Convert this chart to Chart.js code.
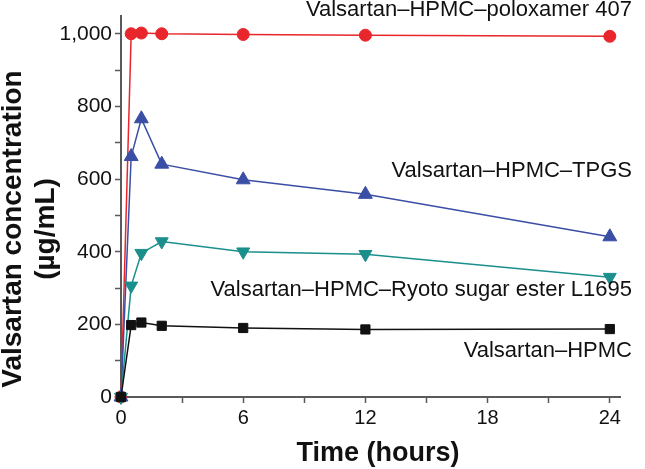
<!DOCTYPE html>
<html>
<head>
<meta charset="utf-8">
<script src="https://cdn.jsdelivr.net/npm/chart.js@4"></script>
<style>
    html, body { margin: 0; padding: 0; background: #fff; }
    #wrap { width: 645px; height: 469px; }
</style>
</head>
<body>
<div id="wrap"><canvas id="pkChart" width="645" height="469"></canvas></div>
<script>
// Sampling times (hours)
const hours = [0, 0.5, 1, 2, 6, 12, 24];

// Valsartan concentration (ug/mL) per formulation
const poloxamer = [0, 1000, 1002, 1000, 998, 996, 993];
const tpgs = [0, 662, 766, 641, 598, 558, 441];
const ryoto = [0, 306, 396, 428, 400, 393, 330];
const hpmc = [0, 198, 205, 196, 190, 186, 187];

const seriesNames = [
    'Valsartan\u2013HPMC\u2013poloxamer 407',
    'Valsartan\u2013HPMC\u2013TPGS',
    'Valsartan\u2013HPMC\u2013Ryoto sugar ester L1695',
    'Valsartan\u2013HPMC'
];

const xTicks = [0, 6, 12, 18, 24];
const yTicks = [0, 200, 400, 600, 800, 1000];

const FONT = '"Liberation Sans", Arial, sans-serif';
const AXIS = '#5a5a5a';

function toPoints(values) {
    return hours.map((h, i) => ({ x: h, y: values[i] }));
}

// Series labels, axis titles drawn on the canvas
const labelPlugin = {
    id: 'labels',
    afterDraw(chart) {
        const ctx = chart.ctx;
        ctx.save();
        ctx.fillStyle = '#111';
        ctx.font = '22px ' + FONT;
        ctx.textAlign = 'right';
        ctx.textBaseline = 'alphabetic';
        const baselines = [16, 177, 296, 357];
        seriesNames.forEach((name, i) => {
            ctx.fillText(name, 632, baselines[i]);
        });

        ctx.font = 'bold 27px ' + FONT;
        ctx.textAlign = 'center';
        ctx.fillText('Time (hours)', 378, 461);

        ctx.font = 'bold 28px ' + FONT;
        ctx.textBaseline = 'middle';
        ctx.rotate(-Math.PI / 2);
        ctx.fillText('Valsartan concentration', -229, 13);
        ctx.fillText('(\u00b5g/mL)', -229, 46);
        ctx.restore();
    }
};

const ctx = document.getElementById('pkChart').getContext('2d');

new Chart(ctx, {
    type: 'scatter',

    data: {
        datasets: [
            {
                label: seriesNames[3],
                data: toPoints(hpmc),
                borderColor: '#111111',
                backgroundColor: '#111111',
                pointStyle: 'rect',
                pointRadius: 6.5,
                borderWidth: 1.5
            },
            {
                label: seriesNames[2],
                data: toPoints(ryoto),
                borderColor: '#1a8f8c',
                backgroundColor: '#1a8f8c',
                pointStyle: 'triangle',
                rotation: 180,
                pointRadius: 7.5,
                borderWidth: 1.5
            },
            {
                label: seriesNames[1],
                data: toPoints(tpgs),
                borderColor: '#3a4ea6',
                backgroundColor: '#3a4ea6',
                pointStyle: 'triangle',
                pointRadius: 8,
                borderWidth: 1.5
            },
            {
                label: seriesNames[0],
                data: toPoints(poloxamer),
                borderColor: '#e8262b',
                backgroundColor: '#e8262b',
                pointStyle: 'circle',
                pointRadius: 6,
                borderWidth: 1.5
            }
        ].map(d => Object.assign(d, { showLine: true, clip: false, pointBorderWidth: 1 }))
    },

    options: {
        responsive: false,
        animation: false,
        layout: {
            padding: { left: 0, right: 25, top: 10, bottom: 0 }
        },
        plugins: {
            legend: { display: false },
            tooltip: { enabled: false }
        },
        scales: {
            x: {
                type: 'linear',
                min: 0,
                max: 24.5,
                border: { color: AXIS, width: 2 },
                grid: {
                    drawOnChartArea: false,
                    color: AXIS,
                    tickLength: 6,
                    tickWidth: 1.5
                },
                ticks: {
                    stepSize: 3,
                    includeBounds: false,
                    autoSkip: false,
                    maxRotation: 0,
                    padding: 3,
                    color: '#111',
                    font: { family: FONT, size: 20 },
                    callback: v => xTicks.includes(v) ? String(v) : ''
                },
                afterFit: scale => { scale.height = 72; }
            },
            y: {
                min: 0,
                max: 1050,
                border: { color: AXIS, width: 2 },
                grid: {
                    drawOnChartArea: false,
                    color: AXIS,
                    tickLength: 6,
                    tickWidth: 1.5
                },
                ticks: {
                    stepSize: 100,
                    includeBounds: false,
                    autoSkip: false,
                    padding: 3,
                    color: '#111',
                    font: { family: FONT, size: 21 },
                    callback: v => yTicks.includes(v) ? v.toLocaleString('en-US') : ''
                },
                afterFit: scale => { scale.width = 121; }
            }
        }
    },

    plugins: [labelPlugin]
});
</script>
</body>
</html>
